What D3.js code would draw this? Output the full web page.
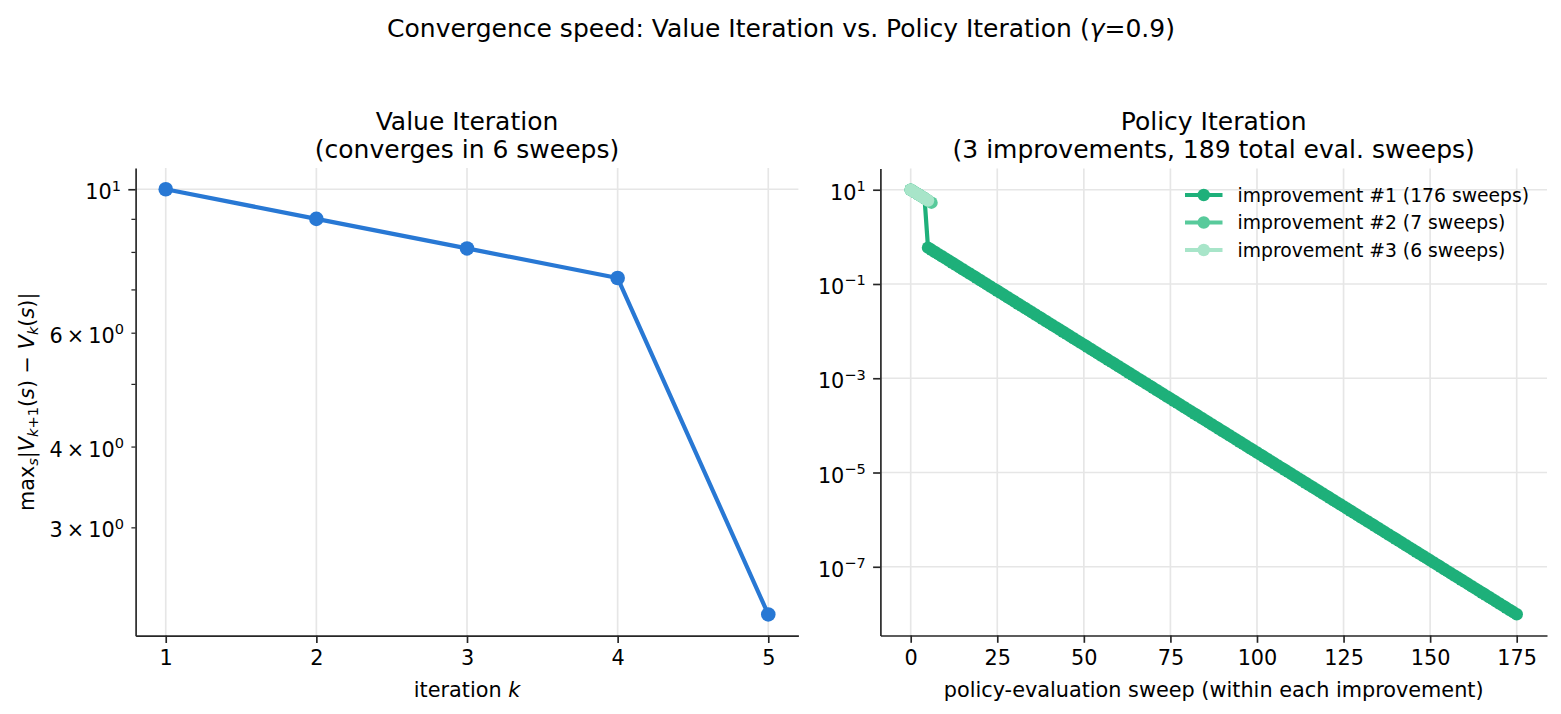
<!DOCTYPE html>
<html><head><meta charset="utf-8">
<script src="https://cdn.jsdelivr.net/npm/d3@7"></script>
<style>
body{margin:0;background:#fff}
svg{display:block}
text{font-family:"DejaVu Sans",sans-serif;fill:#000}
</style>
</head><body>
<svg id="c" width="1561" height="714"></svg>
<script>
// ---------- data ----------
const viIterations = [1, 2, 3, 4, 5];
const viValues = [10, 9, 8.1, 7.29, 2.2];

// policy iteration: sweep index = position in array (0-based)
const piImp1 = [10, 9, 8.1, 7.29, 6.561,
  0.59, 0.531, 0.4779, 0.4301, 0.3871, 0.3484, 0.3135, 0.2822, 0.254, 0.2286,
  0.2057, 0.1851, 0.1666, 0.15, 0.135, 0.1215, 0.1093, 0.0984, 0.08856, 0.0797,
  0.07173, 0.06456, 0.0581, 0.05229, 0.04706, 0.04236, 0.03812, 0.03431, 0.03088, 0.02779,
  0.02501, 0.02251, 0.02026, 0.01823, 0.01641, 0.01477, 0.01329, 0.01196, 0.01077, 0.00969,
  0.008721, 0.007849, 0.007064, 0.006358, 0.005722, 0.00515, 0.004635, 0.004171, 0.003754, 0.003379,
  0.003041, 0.002737, 0.002463, 0.002217, 0.001995, 0.001796, 0.001616, 0.001454, 0.001309, 0.001178,
  0.00106, 9.542e-4, 8.588e-4, 7.729e-4, 6.956e-4, 6.26e-4, 5.634e-4, 5.071e-4, 4.564e-4, 4.107e-4,
  3.697e-4, 3.326e-4, 2.994e-4, 2.694e-4, 2.425e-4, 2.182e-4, 1.964e-4, 1.768e-4, 1.591e-4, 1.432e-4,
  1.289e-4, 1.16e-4, 1.044e-4, 9.396e-5, 8.456e-5, 7.611e-5, 6.85e-5, 6.165e-5, 5.548e-5, 4.993e-5,
  4.494e-5, 4.045e-5, 3.64e-5, 3.276e-5, 2.949e-5, 2.654e-5, 2.388e-5, 2.15e-5, 1.935e-5, 1.741e-5,
  1.567e-5, 1.41e-5, 1.269e-5, 1.142e-5, 1.028e-5, 9.253e-6, 8.328e-6, 7.495e-6, 6.746e-6, 6.071e-6,
  5.464e-6, 4.918e-6, 4.426e-6, 3.983e-6, 3.585e-6, 3.226e-6, 2.904e-6, 2.613e-6, 2.352e-6, 2.117e-6,
  1.905e-6, 1.715e-6, 1.543e-6, 1.389e-6, 1.25e-6, 1.125e-6, 1.012e-6, 9.113e-7, 8.201e-7, 7.381e-7,
  6.643e-7, 5.979e-7, 5.381e-7, 4.843e-7, 4.358e-7, 3.923e-7, 3.53e-7, 3.177e-7, 2.86e-7, 2.574e-7,
  2.316e-7, 2.085e-7, 1.876e-7, 1.689e-7, 1.52e-7, 1.368e-7, 1.231e-7, 1.108e-7, 9.972e-8, 8.975e-8,
  8.077e-8, 7.269e-8, 6.542e-8, 5.888e-8, 5.299e-8, 4.769e-8, 4.292e-8, 3.863e-8, 3.477e-8, 3.129e-8,
  2.816e-8, 2.535e-8, 2.281e-8, 2.053e-8, 1.848e-8, 1.663e-8, 1.497e-8, 1.347e-8, 1.212e-8, 1.091e-8,
  9.82e-9];
const piImp2 = [10, 9, 8.1, 7.29, 6.561, 5.905, 5.314];
const piImp3 = [10, 9, 8.1, 7.29, 6.561, 5.905];
const piLabels = ["improvement #1 (176 sweeps)", "improvement #2 (7 sweeps)", "improvement #3 (6 sweeps)"];
const piColors = ["#1eb07a", "#58ca9b", "#a8e5c9"];
const viColor = "#2878d4";

const viXTicks = [1, 2, 3, 4, 5];
const viYMajor = [10];
const viYMinor = [3, 4, 5, 6, 7, 8, 9];
const viYMinorLabelled = [3, 4, 6];
const piXTicks = [0, 25, 50, 75, 100, 125, 150, 175];
const piYExps = [1, -1, -3, -5, -7];

// ---------- layout ----------
const FS_TICK = 20.8, FS_TITLE = 25, FS_LEG = 18.75;
const MAJ = 7.3, MIN = 4.2, PAD = 7.3;
const INK = "#262626";
const L = {x0: 135.6, x1: 798.4, y0: 168, y1: 635.7};
const R = {x0: 880.4, x1: 1547, y0: 168.5, y1: 635.5};
const TITLE_Y1 = 129.5, TITLE_Y2 = 158;

const svg = d3.select("#c");

function logDomain(vals) {
  const lo = Math.log10(d3.min(vals)), hi = Math.log10(d3.max(vals)), m = (hi - lo) * 0.05;
  return [Math.pow(10, lo - m), Math.pow(10, hi + m)];
}
function linDomain(vals) {
  const lo = d3.min(vals), hi = d3.max(vals), m = (hi - lo) * 0.05;
  return [lo - m, hi + m];
}

// math-like text with sub/superscripts
function mtext(sel, segs, size) {
  let shift = 0;
  segs.forEach(s => {
    const target = s.s === "sub" ? 0.22 * size : s.s === "sup" ? -0.42 * size : 0;
    const ts = sel.append("tspan").text(s.t)
      .attr("dy", target - shift)
      .attr("font-size", s.s ? size * 0.7 : size);
    if (s.i) ts.attr("font-style", "italic");
    shift = target;
  });
  return sel;
}

function styleAxis(g, w) {
  g.select(".domain").attr("stroke", INK).attr("stroke-width", 1.67);
  g.selectAll(".tick line").attr("stroke", INK).attr("stroke-width", w || 1.67);
  g.selectAll(".tick text").attr("fill", "#000").attr("font-size", FS_TICK)
    .attr("font-family", "DejaVu Sans");
}

// ---------- Left panel: value iteration ----------
const xL = d3.scaleLinear().domain(linDomain(viIterations)).range([L.x0, L.x1]);
const yL = d3.scaleLog().domain(logDomain(viValues)).range([L.y1, L.y0]);

const gl = svg.append("g");
// grid
gl.selectAll(".gx").data(viXTicks).join("line")
  .attr("x1", d => xL(d)).attr("x2", d => xL(d)).attr("y1", L.y0).attr("y2", L.y1)
  .attr("stroke", "#e6e6e6").attr("stroke-width", 1.67);
gl.selectAll(".gy").data(viYMajor).join("line")
  .attr("x1", L.x0).attr("x2", L.x1).attr("y1", d => yL(d)).attr("y2", d => yL(d))
  .attr("stroke", "#e6e6e6").attr("stroke-width", 1.67);

// line + markers
const viPts = viIterations.map((k, i) => [k, viValues[i]]);
gl.append("path").datum(viPts)
  .attr("d", d3.line().x(d => xL(d[0])).y(d => yL(d[1])))
  .attr("fill", "none").attr("stroke", viColor).attr("stroke-width", 4.2)
  .attr("stroke-linejoin", "round").attr("stroke-linecap", "butt");
gl.selectAll(".m").data(viPts).join("circle")
  .attr("cx", d => xL(d[0])).attr("cy", d => yL(d[1])).attr("r", 7.3)
  .attr("fill", viColor);

// axes
const axLx = gl.append("g").attr("transform", `translate(0,${L.y1})`)
  .call(d3.axisBottom(xL).tickValues(viXTicks).tickFormat(d3.format("d"))
    .tickSize(MAJ).tickPadding(PAD).tickSizeOuter(0));
styleAxis(axLx);
const axLy = gl.append("g").attr("transform", `translate(${L.x0},0)`)
  .call(d3.axisLeft(yL).tickValues(viYMajor).tickFormat(() => "").tickSize(MAJ).tickSizeOuter(0));
styleAxis(axLy);
const axLyMin = gl.append("g").attr("transform", `translate(${L.x0},0)`)
  .call(d3.axisLeft(yL).tickValues(viYMinor).tickFormat(() => "").tickSize(MIN).tickSizeOuter(0));
axLyMin.select(".domain").remove();
styleAxis(axLyMin, 1.25);

// y tick labels (math style)
viYMajor.forEach(v => {
  const t = gl.append("text").attr("x", L.x0 - MAJ - PAD).attr("y", yL(v) + 10)
    .attr("text-anchor", "end").attr("font-size", FS_TICK);
  mtext(t, [{t: "10"}, {t: String(Math.round(Math.log10(v))), s: "sup"}], FS_TICK);
});
viYMinorLabelled.forEach(v => {
  const t = gl.append("text").attr("x", L.x0 - MIN - PAD).attr("y", yL(v) + 10)
    .attr("text-anchor", "end").attr("font-size", FS_TICK);
  mtext(t, [{t: v + "\u2009×\u200910"}, {t: "0", s: "sup"}], FS_TICK);
});

// labels
const xlL = gl.append("text").attr("x", (L.x0 + L.x1) / 2).attr("y", 697)
  .attr("text-anchor", "middle").attr("font-size", FS_TICK);
mtext(xlL, [{t: "iteration "}, {t: "k", i: true}], FS_TICK);

const ylL = gl.append("text").attr("transform", `translate(33.5,${(L.y0 + L.y1) / 2}) rotate(-90)`)
  .attr("text-anchor", "middle").attr("font-size", FS_TICK);
mtext(ylL, [
  {t: "max"}, {t: "s", s: "sub", i: true}, {t: "|"}, {t: "V", i: true},
  {t: "k", s: "sub", i: true}, {t: "+1", s: "sub"}, {t: "("}, {t: "s", i: true}, {t: ") \u2212 "},
  {t: "V", i: true}, {t: "k", s: "sub", i: true}, {t: "("}, {t: "s", i: true}, {t: ")|"}
], FS_TICK);

gl.append("text").attr("x", (L.x0 + L.x1) / 2).attr("y", TITLE_Y1)
  .attr("text-anchor", "middle").attr("font-size", FS_TITLE).text("Value Iteration");
gl.append("text").attr("x", (L.x0 + L.x1) / 2).attr("y", TITLE_Y2)
  .attr("text-anchor", "middle").attr("font-size", FS_TITLE).text("(converges in 6 sweeps)");

// ---------- Right panel: policy iteration ----------
const series = [piImp1, piImp2, piImp3];
const allVals = series.flat();
const allIdx = series.flatMap(s => s.map((_, i) => i));
const xR = d3.scaleLinear().domain(linDomain(allIdx)).range([R.x0, R.x1]);
const yR = d3.scaleLog().domain(logDomain(allVals)).range([R.y1, R.y0]);

const gr = svg.append("g");
gr.selectAll(".gx").data(piXTicks).join("line")
  .attr("x1", d => xR(d)).attr("x2", d => xR(d)).attr("y1", R.y0).attr("y2", R.y1)
  .attr("stroke", "#e6e6e6").attr("stroke-width", 1.67);
gr.selectAll(".gy").data(piYExps).join("line")
  .attr("x1", R.x0).attr("x2", R.x1).attr("y1", d => yR(Math.pow(10, d))).attr("y2", d => yR(Math.pow(10, d)))
  .attr("stroke", "#e6e6e6").attr("stroke-width", 1.67);

series.forEach((s, si) => {
  const pts = s.map((v, i) => [i, v]);
  gr.append("path").datum(pts)
    .attr("d", d3.line().x(d => xR(d[0])).y(d => yR(d[1])))
    .attr("fill", "none").attr("stroke", piColors[si]).attr("stroke-width", 4.2)
    .attr("stroke-linejoin", "round");
  gr.append("g").selectAll("circle").data(pts).join("circle")
    .attr("cx", d => xR(d[0])).attr("cy", d => yR(d[1])).attr("r", 6.25)
    .attr("fill", piColors[si]);
});

const axRx = gr.append("g").attr("transform", `translate(0,${R.y1})`)
  .call(d3.axisBottom(xR).tickValues(piXTicks).tickFormat(d3.format("d"))
    .tickSize(MAJ).tickPadding(PAD).tickSizeOuter(0));
styleAxis(axRx);
const axRy = gr.append("g").attr("transform", `translate(${R.x0},0)`)
  .call(d3.axisLeft(yR).tickValues(piYExps.map(e => Math.pow(10, e))).tickFormat(() => "")
    .tickSize(MAJ).tickSizeOuter(0));
styleAxis(axRy);
piYExps.forEach(e => {
  const t = gr.append("text").attr("x", R.x0 - MAJ - PAD).attr("y", yR(Math.pow(10, e)) + 10)
    .attr("text-anchor", "end").attr("font-size", FS_TICK);
  mtext(t, [{t: "10"}, {t: (e < 0 ? "\u2212" : "") + Math.abs(e), s: "sup"}], FS_TICK);
});

gr.append("text").attr("x", (R.x0 + R.x1) / 2).attr("y", 697)
  .attr("text-anchor", "middle").attr("font-size", FS_TICK)
  .text("policy-evaluation sweep (within each improvement)");
gr.append("text").attr("x", (R.x0 + R.x1) / 2).attr("y", TITLE_Y1)
  .attr("text-anchor", "middle").attr("font-size", FS_TITLE).text("Policy Iteration");
gr.append("text").attr("x", (R.x0 + R.x1) / 2).attr("y", TITLE_Y2)
  .attr("text-anchor", "middle").attr("font-size", FS_TITLE).text("(3 improvements, 189 total eval. sweeps)");

// legend
const legY = [195, 222.5, 250];
const lg = gr.append("g");
piLabels.forEach((lab, i) => {
  lg.append("line").attr("x1", 1185).attr("x2", 1222.5).attr("y1", legY[i]).attr("y2", legY[i])
    .attr("stroke", piColors[i]).attr("stroke-width", 4.2);
  lg.append("circle").attr("cx", 1203.75).attr("cy", legY[i]).attr("r", 6.25).attr("fill", piColors[i]);
  lg.append("text").attr("x", 1237.5).attr("y", legY[i] + 6.7).attr("font-size", FS_LEG).text(lab);
});

// suptitle
const st = svg.append("text").attr("x", 781).attr("y", 37).attr("text-anchor", "middle")
  .attr("font-size", FS_TITLE);
mtext(st, [{t: "Convergence speed: Value Iteration vs. Policy Iteration ("}, {t: "γ", i: true}, {t: "=0.9)"}], FS_TITLE);
</script>
</body></html>
